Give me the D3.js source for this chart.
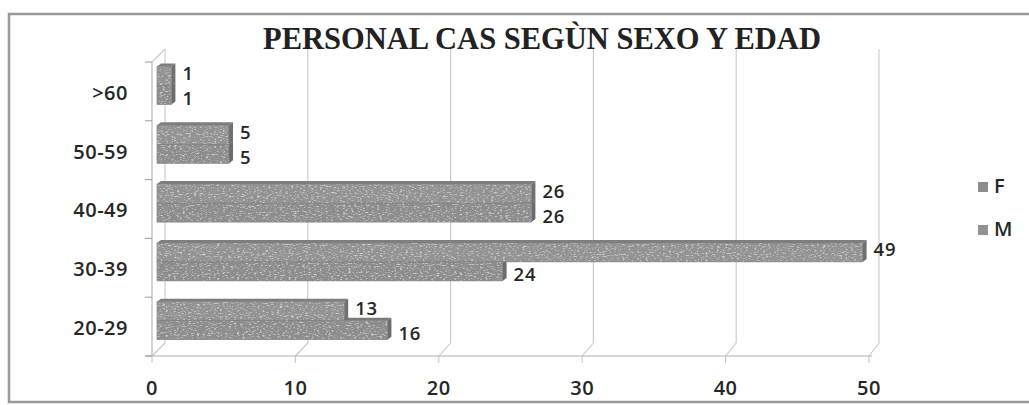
<!DOCTYPE html>
<html>
<head>
<meta charset="utf-8">
<script src="https://cdn.jsdelivr.net/npm/d3@7"></script>
<style>
  body { margin: 0; background: #fff; }
  svg { display: block; }
  .lbl { font-family: "Open Sans", sans-serif; font-weight: 600; fill: #262626; }
</style>
</head>
<body>
<svg id="chart"></svg>
<script>
// data
const categories = ['20-29', '30-39', '40-49', '50-59', '>60']
const valuesF = [16, 24, 26, 5, 1]
const valuesM = [13, 49, 26, 5, 1]
const seriesNames = ['F', 'M']
const xTicks = [0, 10, 20, 30, 40, 50]
const title = 'PERSONAL CAS SEGÙN SEXO Y EDAD'

const width = 1029
const height = 405
const depthX = 13   // back wall offset
const depthY = 13
const barDx = 4     // bar 3d faces
const barDy = 3

const svg = d3.select('#chart')
  .attr('width', width)
  .attr('height', height)

// speckled scan look for the bars
const filter = svg.append('defs').append('filter')
  .attr('id', 'scan')
  .attr('x', 0).attr('y', 0).attr('width', 1).attr('height', 1)
filter.append('feTurbulence')
  .attr('type', 'fractalNoise')
  .attr('baseFrequency', '0.35 0.9')
  .attr('numOctaves', 2)
  .attr('seed', 4)
  .attr('result', 'noise')
filter.append('feColorMatrix')
  .attr('in', 'noise')
  .attr('type', 'matrix')
  .attr('values', '0 0 0 0 1  0 0 0 0 1  0 0 0 0 1  0 0 0 1.8 -0.95')
  .attr('result', 'spots')
filter.append('feComposite')
  .attr('in', 'spots').attr('in2', 'SourceGraphic')
  .attr('operator', 'in')
  .attr('result', 'spotsIn')
const merge = filter.append('feMerge')
merge.append('feMergeNode').attr('in', 'SourceGraphic')
merge.append('feMergeNode').attr('in', 'spotsIn')

// outer frame
svg.append('rect')
  .attr('x', 9).attr('y', 14)
  .attr('width', width + 10).attr('height', 388)
  .attr('fill', 'none')
  .attr('stroke', '#9a9a9a')
  .attr('stroke-width', 2.5)

svg.append('text')
  .text(title)
  .attr('x', 542)
  .attr('y', 49)
  .attr('text-anchor', 'middle')
  .style('font-family', '"Liberation Serif", "Times New Roman", serif')
  .style('font-weight', 'bold')
  .style('font-size', '30.5px')
  .style('fill', '#222')

const floorY = 356
const topY = 62

const xFront = d3.scaleLinear().domain([0, 50]).range([152, 869])
const xBack = d3.scaleLinear().domain([0, 50]).range([152 + depthX, 879])
const xBar = d3.scaleLinear().domain([0, 50]).range([157, 877])

const yCat = d3.scaleBand()
  .domain(categories.slice().reverse())
  .range([topY, floorY])
const ySer = d3.scaleBand()
  .domain(['M', 'F'])
  .range([4.5, 42.5])

const grid = svg.append('g').attr('stroke', '#c8c8c8').attr('stroke-width', 1.1).attr('fill', 'none')

// back wall gridlines
grid.selectAll('line.vg')
  .data(xTicks)
  .enter()
  .append('line')
  .attr('class', 'vg')
  .attr('x1', d => xBack(d)).attr('x2', d => xBack(d))
  .attr('y1', topY - depthY).attr('y2', floorY - depthY)

// floor diagonals
grid.selectAll('line.dg')
  .data(xTicks)
  .enter()
  .append('line')
  .attr('class', 'dg')
  .attr('x1', d => xFront(d)).attr('x2', d => xBack(d))
  .attr('y1', floorY).attr('y2', floorY - depthY)

// front floor edge + ticks
grid.append('line')
  .attr('x1', xFront(0) - 7).attr('x2', xFront(50) + 3)
  .attr('y1', floorY).attr('y2', floorY)
  .attr('stroke', '#b0b0b0')
grid.selectAll('line.xt')
  .data(xTicks)
  .enter()
  .append('line')
  .attr('class', 'xt')
  .attr('x1', d => xFront(d)).attr('x2', d => xFront(d))
  .attr('y1', floorY).attr('y2', floorY + 7)

// left wall
grid.append('line')
  .attr('x1', xFront(0)).attr('x2', xFront(0))
  .attr('y1', topY).attr('y2', floorY)
  .attr('stroke', '#b0b0b0')
grid.append('line')
  .attr('x1', xFront(0)).attr('x2', xBack(0))
  .attr('y1', topY).attr('y2', topY - depthY)
const catEdges = yCat.domain().map(c => yCat(c)).concat([floorY])
grid.selectAll('line.yt')
  .data(catEdges)
  .enter()
  .append('line')
  .attr('class', 'yt')
  .attr('x1', xFront(0) - 7).attr('x2', xFront(0))
  .attr('y1', d => d).attr('y2', d => d)
  .attr('stroke', '#a0a0a0')

// bars
const rows = []
categories.forEach((c, i) => {
  rows.push({ cat: c, serie: 'F', value: valuesF[i] })
  rows.push({ cat: c, serie: 'M', value: valuesM[i] })
})
const fillFront = { F: '#8c8c8c', M: '#929292' }
const fillTop = { F: '#7a7a7a', M: '#7e7e7e' }
const fillSide = { F: '#6c6c6c', M: '#707070' }

const barG = svg.append('g')
const bar = barG.selectAll('g.bar')
  .data(rows)
  .enter()
  .append('g')
  .attr('class', 'bar')

const by = d => yCat(d.cat) + ySer(d.serie)
const bh = ySer.bandwidth()

bar.append('path')
  .attr('d', d => {
    const x0 = xBar(0), x1 = xBar(d.value), y = by(d)
    return `M${x0},${y}L${x0 + barDx},${y - barDy}L${x1 + barDx},${y - barDy}L${x1},${y}Z`
  })
  .attr('fill', d => fillTop[d.serie])
bar.append('path')
  .attr('d', d => {
    const x1 = xBar(d.value), y = by(d)
    return `M${x1},${y}L${x1 + barDx},${y - barDy}L${x1 + barDx},${y + bh - barDy}L${x1},${y + bh}Z`
  })
  .attr('fill', d => fillSide[d.serie])
bar.append('rect')
  .attr('x', xBar(0))
  .attr('y', by)
  .attr('width', d => xBar(d.value) - xBar(0))
  .attr('height', bh)
  .attr('fill', d => fillFront[d.serie])
  .attr('filter', 'url(#scan)')
bar.append('rect')
  .attr('x', xBar(0))
  .attr('y', by)
  .attr('width', d => xBar(d.value) - xBar(0))
  .attr('height', bh)
  .attr('fill', 'none')
  .attr('stroke', '#7c7c7c')
  .attr('stroke-width', 0.6)

// value labels (upper label nudged up, lower nudged down so they stack)
svg.selectAll('text.val')
  .data(rows)
  .enter()
  .append('text')
  .attr('class', 'lbl val')
  .text(d => d.value)
  .attr('x', d => xBar(d.value) + barDx + 7)
  .attr('y', d => by(d) + bh / 2 + (d.serie === 'M' ? -1 : 5))
  .attr('dominant-baseline', 'middle')
  .style('font-size', '18.5px')
  .style('letter-spacing', '0.8px')

// y labels
svg.selectAll('text.ylab')
  .data(categories)
  .enter()
  .append('text')
  .attr('class', 'lbl ylab')
  .text(d => d)
  .attr('x', 128)
  .attr('y', d => yCat(d) + yCat.bandwidth() / 2 + 3)
  .attr('text-anchor', 'end')
  .attr('dominant-baseline', 'middle')
  .style('font-size', '20px')
  .style('letter-spacing', '0.5px')

// x labels
svg.selectAll('text.xlab')
  .data(xTicks)
  .enter()
  .append('text')
  .attr('class', 'lbl xlab')
  .text(d => d)
  .attr('x', d => xFront(d))
  .attr('y', 390)
  .attr('text-anchor', 'middle')
  .attr('dominant-baseline', 'middle')
  .style('font-size', '20px')
  .style('letter-spacing', '0.5px')

// legend
const legend = svg.append('g')
  .attr('id', 'legend')
  .attr('transform', 'translate(978,187)')
const legItem = legend.selectAll('g')
  .data(seriesNames)
  .enter()
  .append('g')
  .attr('transform', (d, i) => `translate(0,${i * 43})`)
legItem.append('rect')
  .attr('x', 0).attr('y', -5)
  .attr('width', 10).attr('height', 10)
  .attr('fill', d => fillFront[d])
legItem.append('text')
  .attr('class', 'lbl')
  .text(d => d)
  .attr('x', 16)
  .attr('y', 1)
  .attr('dominant-baseline', 'middle')
  .style('font-size', '20px')
</script>
</body>
</html>
